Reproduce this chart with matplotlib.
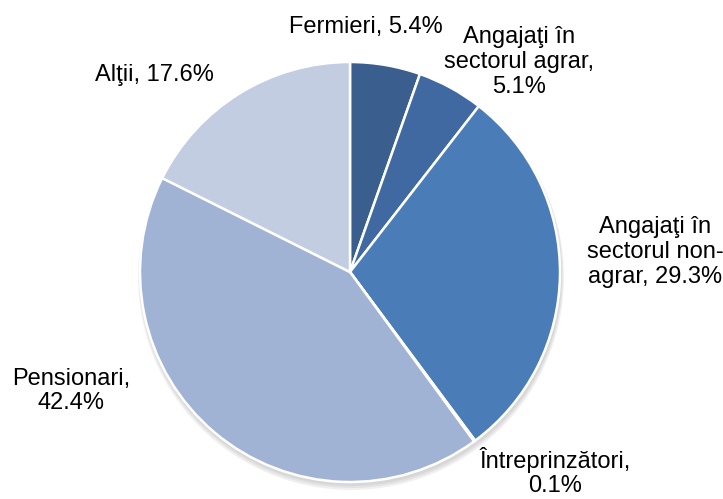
import matplotlib
matplotlib.use('Agg')
import matplotlib.pyplot as plt
from matplotlib.patches import Circle

plt.rcParams['font.family'] = ['Liberation Sans', 'DejaVu Sans']

categories = ['Fermieri', 'Angajaţi în\nsectorul agrar', 'Angajaţi în\nsectorul non-\nagrar',
              'Întreprinzători', 'Pensionari', 'Alţii']
values = [5.4, 5.1, 29.3, 0.1, 42.4, 17.6]
label_texts = ['Fermieri, 5.4%', 'Angajaţi în\nsectorul agrar,\n5.1%',
               'Angajaţi în\nsectorul non-\nagrar, 29.3%', 'Întreprinzători,\n0.1%',
               'Pensionari,\n42.4%', 'Alţii, 17.6%']
colors = ['#3A5F8E', '#3F69A0', '#4A7CB8', '#5B86BE', '#A1B3D4', '#C2CDE2']

W, H = 723, 499
# label centres in pixel coords (from top-left)
label_pos = [(366, 27), (519, 62), (655, 252), (555, 472), (71, 391), (154, 75)]

fig = plt.figure(figsize=(W / 100, H / 100), dpi=100)
ax = fig.add_axes([0, 0, 1, 1])
ax.set_xlim(0, W)
ax.set_ylim(0, H)
ax.axis('off')

cx, cy, r = 350, H - 272, 210

# soft shadow
for i, a in enumerate([0.05, 0.05, 0.06]):
    ax.add_patch(Circle((cx + 1, cy - 3 - i), r + 1 + i, color='black', alpha=a, lw=0, zorder=0))

wedges, _ = ax.pie(values, colors=colors, startangle=90, counterclock=False,
                   center=(cx, cy), radius=r, frame=True,
                   wedgeprops=dict(edgecolor='white', linewidth=1.8))
for w in wedges:
    w.set_zorder(2)
ax.set_xlim(0, W)
ax.set_ylim(0, H)
ax.axis('off')

for txt, (x, y) in zip(label_texts, label_pos):
    ax.text(x, H - y, txt, ha='center', va='center', fontsize=17,
            linespacing=1.17, color='black')

fig.savefig('out.png', dpi=100)
